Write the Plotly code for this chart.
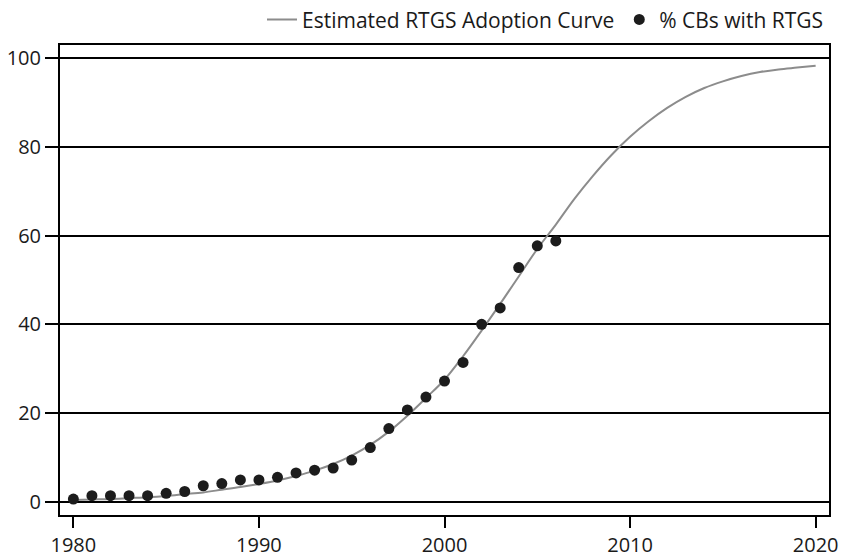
import plotly.graph_objects as go

obs_years = list(range(1980, 2007))
obs_pct = [0.6, 1.35, 1.35, 1.35, 1.35, 1.9, 2.3, 3.6, 4.1, 4.9, 4.9, 5.5, 6.5,
           7.1, 7.6, 9.4, 12.2, 16.5, 20.7, 23.6, 27.2, 31.4, 40.0, 43.7, 52.8,
           57.7, 58.8]

# Estimated adoption curve (%) at yearly steps
curve_years = list(range(1980, 2021))
curve_pct = [0.4, 0.5, 0.6, 0.8, 1.0, 1.3, 1.7, 2.1, 2.7, 3.3, 4.0, 4.8, 5.8,
             7.0, 8.5, 10.4, 12.8, 15.8, 19.4, 23.4, 27.5, 32.8, 38.6, 44.6,
             50.8, 57.0, 62.5, 68.3, 73.5, 78.2, 82.3, 85.8, 88.8, 91.3, 93.3,
             94.8, 96.0, 96.9, 97.5, 97.9, 98.3]

x_ticks = [1980, 1990, 2000, 2010, 2020]
y_ticks = [0, 20, 40, 60, 80, 100]

FONT = "Open Sans"

fig = go.Figure()
fig.add_trace(go.Scatter(
    x=curve_years, y=curve_pct, mode="lines", name="Estimated RTGS Adoption Curve",
    line=dict(color="#8c8c8c", width=2, shape="spline"),
))
fig.add_trace(go.Scatter(
    x=obs_years, y=obs_pct, mode="markers", name="% CBs with RTGS",
    marker=dict(color="#1c1c1c", size=11),
))

fig.update_layout(
    width=845, height=557,
    margin=dict(l=60, r=16, t=45, b=42, autoexpand=False),
    paper_bgcolor="white", plot_bgcolor="white",
    font=dict(family=FONT, size=20, color="#1a1a1a"),
    legend=dict(orientation="h", x=1.0, xanchor="right", y=1.01, yanchor="bottom",
                font=dict(size=21), bgcolor="rgba(0,0,0,0)", itemwidth=30,
                tracegroupgap=0),
    xaxis=dict(range=[1979.28, 2020.72], tickvals=x_ticks, showgrid=False,
               zeroline=False, showline=True, linecolor="black", linewidth=2,
               mirror=True, ticks="outside", ticklen=11, tickwidth=2,
               tickcolor="black", ticklabelstandoff=0),
    yaxis=dict(range=[-3, 103], tickvals=y_ticks, showgrid=True,
               gridcolor="black", gridwidth=2, zeroline=False, showline=True,
               linecolor="black", linewidth=2, mirror=True, ticks="outside",
               ticklen=13, tickwidth=2, tickcolor="black"),
)

fig.write_html("out.html")
